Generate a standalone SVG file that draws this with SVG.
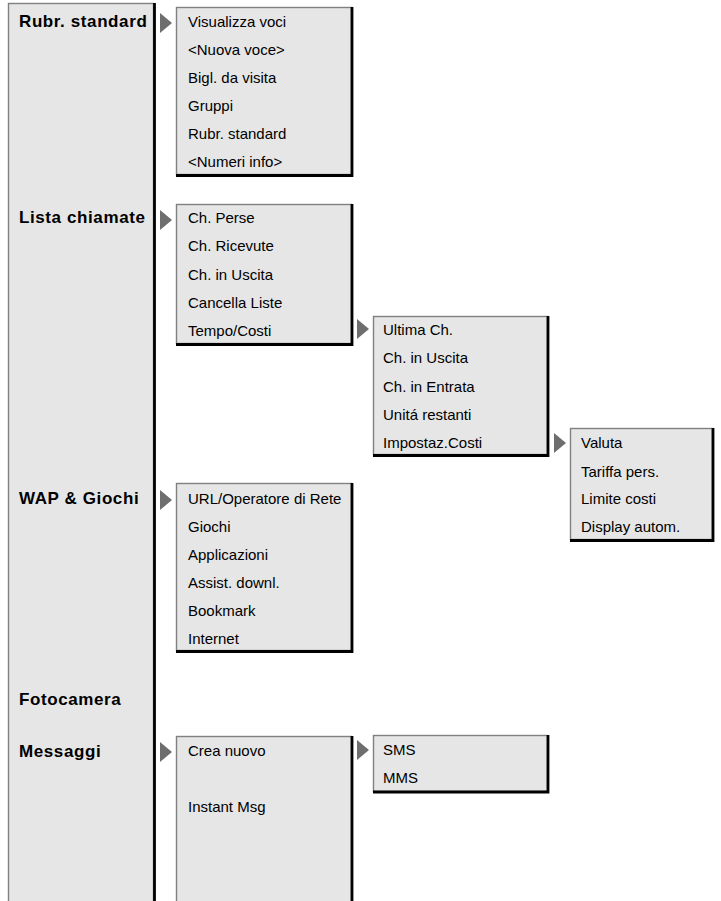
<svg xmlns="http://www.w3.org/2000/svg" width="721" height="901" viewBox="0 0 721 901">
<style>
.box{fill:#e6e6e6;stroke:#808080;stroke-width:1.4}
.sh{fill:none;stroke:#000;stroke-width:2.8}
.t{font-family:"Liberation Sans",Arial,sans-serif;font-size:15px;fill:#000}
.b{font-family:"Liberation Sans",Arial,sans-serif;font-size:17px;font-weight:bold;letter-spacing:0.6px;fill:#000}
.tri{fill:#6e6e6e}
</style>
<rect width="721" height="901" fill="#fff"/>
<g id="main-column">
<rect class="box" x="8.5" y="3.5" width="145" height="910"/>
<line class="sh" x1="154.5" y1="3" x2="154.5" y2="901"/>
<text class="b" x="19" y="27">Rubr. standard</text>
<text class="b" x="19" y="223">Lista chiamate</text>
<text class="b" x="19" y="504">WAP &amp; Giochi</text>
<text class="b" x="19" y="705">Fotocamera</text>
<text class="b" x="19" y="757">Messaggi</text>
</g>
<g id="connectors">
<polygon class="tri" points="160,13 172,23 160,33"/>
<polygon class="tri" points="160,210 172,220 160,230"/>
<polygon class="tri" points="357,319 369,329 357,339"/>
<polygon class="tri" points="554,433 566,443 554,453"/>
<polygon class="tri" points="160,490 172,500 160,510"/>
<polygon class="tri" points="160,742 172,752 160,762"/>
<polygon class="tri" points="357,740 369,750 357,760"/>
</g>
<g id="rubrica">
<rect class="box" x="176.5" y="7.5" width="175" height="167"/>
<polyline class="sh" points="352,7 352,175.5 176,175.5"/>
<text class="t" x="188" y="27">Visualizza voci</text>
<text class="t" x="188" y="55">&lt;Nuova voce&gt;</text>
<text class="t" x="188" y="83">Bigl. da visita</text>
<text class="t" x="188" y="111">Gruppi</text>
<text class="t" x="188" y="139">Rubr. standard</text>
<text class="t" x="188" y="167">&lt;Numeri info&gt;</text>
</g>
<g id="lista">
<rect class="box" x="176.5" y="204.5" width="175" height="139"/>
<polyline class="sh" points="352,204 352,344.5 176,344.5"/>
<text class="t" x="188" y="223">Ch. Perse</text>
<text class="t" x="188" y="251">Ch. Ricevute</text>
<text class="t" x="188" y="280">Ch. in Uscita</text>
<text class="t" x="188" y="308">Cancella Liste</text>
<text class="t" x="188" y="336">Tempo/Costi</text>
</g>
<g id="tempo">
<rect class="box" x="373.5" y="316.5" width="174" height="138"/>
<polyline class="sh" points="548,316 548,455.5 373,455.5"/>
<text class="t" x="383" y="335">Ultima Ch.</text>
<text class="t" x="383" y="363">Ch. in Uscita</text>
<text class="t" x="383" y="392">Ch. in Entrata</text>
<text class="t" x="383" y="420">Unitá restanti</text>
<text class="t" x="383" y="448">Impostaz.Costi</text>
</g>
<g id="costi">
<rect class="box" x="570.5" y="428.5" width="142" height="111"/>
<polyline class="sh" points="713,428 713,540.5 570,540.5"/>
<text class="t" x="581" y="448">Valuta</text>
<text class="t" x="581" y="477">Tariffa pers.</text>
<text class="t" x="581" y="504">Limite costi</text>
<text class="t" x="581" y="532">Display autom.</text>
</g>
<g id="wap">
<rect class="box" x="176.5" y="483.5" width="175" height="167"/>
<polyline class="sh" points="352,483 352,651.5 176,651.5"/>
<text class="t" x="188" y="504">URL/Operatore di Rete</text>
<text class="t" x="188" y="532">Giochi</text>
<text class="t" x="188" y="560">Applicazioni</text>
<text class="t" x="188" y="588">Assist. downl.</text>
<text class="t" x="188" y="616">Bookmark</text>
<text class="t" x="188" y="644">Internet</text>
</g>
<g id="messaggi">
<rect class="box" x="176.5" y="736.5" width="175" height="180"/>
<line class="sh" x1="352" y1="736" x2="352" y2="901"/>
<text class="t" x="188" y="756">Crea nuovo</text>
<text class="t" x="188" y="812">Instant Msg</text>
</g>
<g id="crea">
<rect class="box" x="373.5" y="735.5" width="174" height="56"/>
<polyline class="sh" points="548,735 548,792 373,792"/>
<text class="t" x="383" y="755">SMS</text>
<text class="t" x="383" y="783">MMS</text>
</g>
</svg>
